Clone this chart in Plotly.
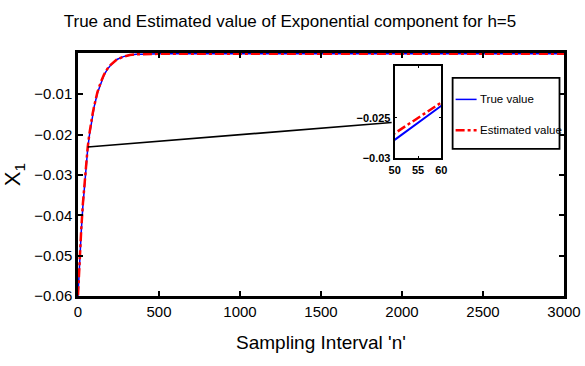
import plotly.graph_objects as go

# ---- data ----
n_samples = [0, 5, 10, 15, 20, 30, 40, 50, 55, 60, 70, 80, 90, 100, 120, 140, 160, 180,
             200, 240, 280, 320, 360, 400, 500, 1000, 1500, 2000, 2500, 3000]
true_value = [-0.0600, -0.0556, -0.0514, -0.0476, -0.0441, -0.0378, -0.0324, -0.0277,
              -0.0256, -0.0235, -0.0203, -0.0175, -0.0152, -0.0131, -0.0097, -0.0072,
              -0.0053, -0.0039, -0.0029, -0.0014, -0.0007, -0.0003, -0.0001, -0.0001,
              0.0000, 0.0000, 0.0000, 0.0000, 0.0000, 0.0000]
estimated_value = [-0.0598, -0.0552, -0.0509, -0.0470, -0.0435, -0.0372, -0.0317, -0.0269,
                   -0.0250, -0.0231, -0.0199, -0.0171, -0.0149, -0.0129, -0.0095, -0.0071,
                   -0.0052, -0.0038, -0.0028, -0.0014, -0.0007, -0.0003, -0.0001, -0.0001,
                   0.0000, 0.0000, 0.0000, 0.0000, 0.0000, 0.0000]
x_ticks = [0, 500, 1000, 1500, 2000, 2500, 3000]
y_ticks = [-0.06, -0.05, -0.04, -0.03, -0.02, -0.01]
y_ticklabels = ["\u22120.06", "\u22120.05", "\u22120.04", "\u22120.03", "\u22120.02", "\u22120.01"]
inset_x_ticks = [50, 55, 60]
inset_y_ticks = [-0.03, -0.025]
inset_y_ticklabels = ["<b>\u22120.03</b>", "<b>\u22120.025</b>"]
legend_labels = ["True value", "Estimated value"]

FONT = "Liberation Sans, Arial, sans-serif"
W, H = 585, 366
ML, MR, MT, MB = 78, 20.5, 53, 69.5
PW, PH = W - ML - MR, H - MT - MB


def px(xpix):
    return (xpix - ML) / PW


def py(ypix):
    return (H - MB - ypix) / PH


BLUE = "#0000ff"
RED = "#ff0000"

fig = go.Figure()
# main traces
fig.add_trace(go.Scatter(x=n_samples, y=true_value, mode="lines", name=legend_labels[0],
                         line=dict(color=BLUE, width=1.5), showlegend=False))
fig.add_trace(go.Scatter(x=n_samples, y=estimated_value, mode="lines", name=legend_labels[1],
                         line=dict(color=RED, width=2.5, dash="dashdot"), showlegend=False))
# inset traces
fig.add_trace(go.Scatter(x=n_samples, y=true_value, mode="lines", xaxis="x2", yaxis="y2",
                         line=dict(color=BLUE, width=2), showlegend=False))
fig.add_trace(go.Scatter(x=n_samples, y=estimated_value, mode="lines", xaxis="x2", yaxis="y2",
                         line=dict(color=RED, width=2.5, dash="dashdot"), showlegend=False))

axis_common = dict(showline=True, linecolor="black", mirror="ticks", ticks="inside",
                   tickcolor="black", showgrid=False, zeroline=False, automargin=False)

fig.update_layout(
    width=W, height=H,
    margin=dict(l=ML, r=MR, t=MT, b=MB, autoexpand=False),
    paper_bgcolor="white", plot_bgcolor="white",
    font=dict(family=FONT, color="black"),
    title=dict(text="True and Estimated value of Exponential component for h=5",
               x=290 / W, xref="container", xanchor="center",
               y=1 - 21 / H, yref="container", yanchor="middle",
               font=dict(size=17, family=FONT, color="black")),
    xaxis=dict(range=[0, 3000], tickvals=x_ticks, linewidth=2.5, ticklen=5, tickwidth=2,
               tickfont=dict(size=15), domain=[0, 1],
               title=dict(text="Sampling Interval 'n'", font=dict(size=19), standoff=17),
               **axis_common),
    yaxis=dict(range=[-0.06, 0.0002], tickvals=y_ticks, ticktext=y_ticklabels, linewidth=2.5,
               ticklen=5, tickwidth=2, tickfont=dict(size=15), domain=[0, 1],
               title=dict(text="X<sub>1</sub>", font=dict(size=22), standoff=8),
               **axis_common),
    xaxis2=dict(range=[50, 60], tickvals=inset_x_ticks,
                ticktext=["<b>%d</b>" % v for v in inset_x_ticks],
                domain=[px(395), px(441.7)], anchor="y2", linewidth=2, ticklen=2,
                tickfont=dict(size=11), **axis_common),
    yaxis2=dict(range=[-0.03, -0.0186], tickvals=inset_y_ticks, ticktext=inset_y_ticklabels,
                domain=[py(158.7), py(66)], anchor="x2", linewidth=2, ticklen=2,
                tickfont=dict(size=11), **axis_common),
)

# white background for inset
fig.add_shape(type="rect", xref="paper", yref="paper", x0=px(395), x1=px(441.7),
              y0=py(158.7), y1=py(66), fillcolor="white", line=dict(width=0), layer="below")

# connector from curve to inset
fig.add_shape(type="line", xref="x", yref="y", x0=n_samples[9], y0=true_value[9] + 0.0004,
              x1=1936, y1=-0.0170, line=dict(color="black", width=1.6))

# legend box (manual)
fig.add_shape(type="rect", xref="paper", yref="paper", x0=px(453), x1=px(560),
              y0=py(149), y1=py(78), fillcolor="white", line=dict(color="black", width=1.8))
fig.add_shape(type="line", xref="paper", yref="paper", x0=px(456), x1=px(477),
              y0=py(99.5), y1=py(99.5), line=dict(color=BLUE, width=1.5))
fig.add_shape(type="line", xref="paper", yref="paper", x0=px(456), x1=px(477),
              y0=py(130.5), y1=py(130.5), line=dict(color=RED, width=2.5, dash="dashdot"))
fig.add_annotation(x=px(478), y=py(99.5), xref="paper", yref="paper", text=legend_labels[0],
                   showarrow=False, xanchor="left", yanchor="middle",
                   font=dict(size=11.5, family=FONT))
fig.add_annotation(x=px(478), y=py(130.5), xref="paper", yref="paper", text=legend_labels[1],
                   showarrow=False, xanchor="left", yanchor="middle",
                   font=dict(size=11.5, family=FONT))

fig.write_html("out.html")
